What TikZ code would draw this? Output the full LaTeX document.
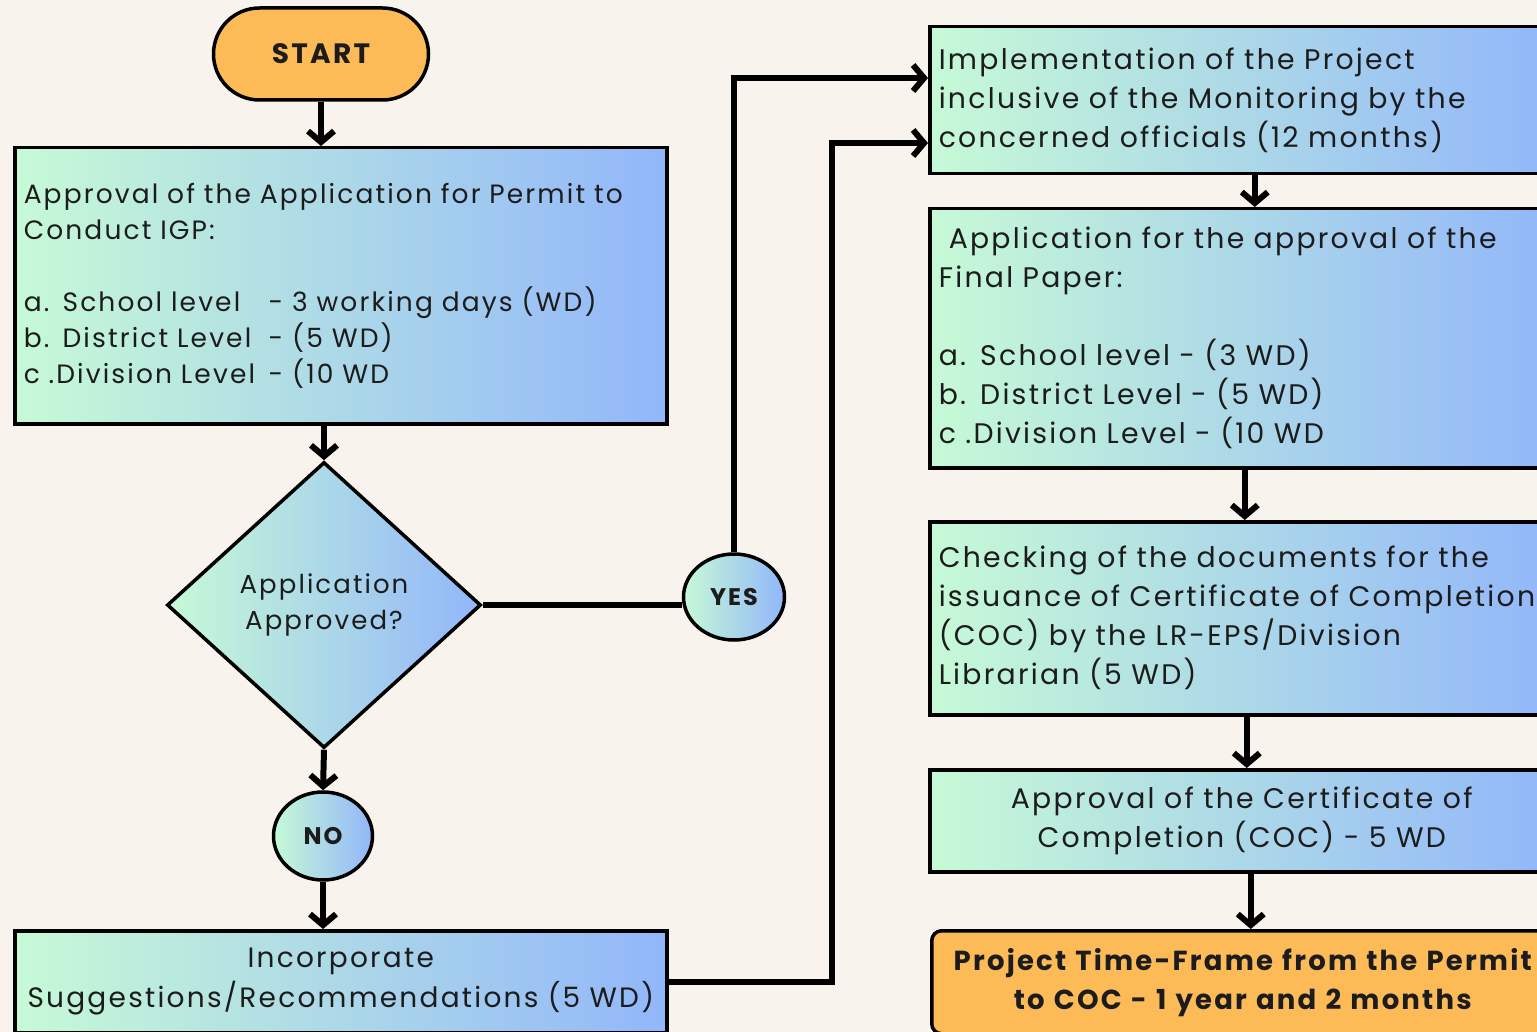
\documentclass[tikz,border=0pt]{standalone}
\usepackage{fontspec}
\setmainfont{Poppins}[LetterSpace=8]
\usetikzlibrary{arrows.meta,shapes.geometric}
\definecolor{bg}{RGB}{248,244,237}
\definecolor{orng}{RGB}{253,187,88}
\definecolor{gA}{RGB}{198,250,214}
\definecolor{gB}{RGB}{146,182,250}
\definecolor{ink}{RGB}{28,28,28}
\begin{document}
\begin{tikzpicture}[x=1pt,y=-1pt,
  every node/.style={text=ink, font=\fontsize{28.3}{39}\selectfont},
  grad/.style={draw=black, line width=3.5pt, left color=gA, right color=gB},
  box/.style={grad, rectangle, inner xsep=9pt, inner ysep=0pt, align=left},
  rbox/.style={box, anchor=north west, minimum width=624, text width=606},
  term/.style={draw=black, line width=3.5pt, fill=orng},
  bubble/.style={ellipse, grad, inner sep=0pt, font=\bfseries\fontsize{24}{26}\selectfont},
  arr/.style={line width=6pt, -{Straight Barb[length=11pt,width=26pt]}},
  ln/.style={line width=6pt},
]
% page
\fill[bg] (0,0) rectangle (1537,1032);
\useasboundingbox (0,0) rectangle (1537,1032);

% left column
\node[term, rounded corners=46pt, minimum width=215, minimum height=92,
  font=\bfseries\fontsize{28}{30}\selectfont] (start) at (321,54) {START};

\node[box, anchor=north west, minimum width=652, minimum height=276, text width=634,
  font=\fontsize{26.5}{36}\selectfont] (perm) at (13,146)
  {Approval of the Application for Permit to\\
   Conduct IGP:\\[36pt]
   \makebox[245pt][l]{a. School level}- 3 working days (WD)\\
   \makebox[245pt][l]{b. District Level}- (5 WD)\\
   \makebox[245pt][l]{c .Division Level}- (10 WD};

\node[diamond, grad, minimum width=314, minimum height=286, inner sep=0pt, align=center,
  font=\fontsize{26}{36}\selectfont] (dec) at (324,605) {Application\\Approved?};

\node[bubble, minimum width=101, minimum height=86] (yes) at (734,597) {YES};
\node[bubble, minimum width=99, minimum height=88] (no) at (323,836) {NO};

\node[box, anchor=north west, minimum width=652, minimum height=102, text width=634,
  align=center, font=\fontsize{28}{40}\selectfont] (inc) at (13,929)
  {Incorporate\\Suggestions/Recommendations (5 WD)};

% right column
\node[rbox, minimum height=147] (imp) at (928,25)
  {Implementation of the Project\\
   inclusive of the Monitoring by the\\
   concerned officials (12 months)};

\node[rbox, minimum height=259] (app) at (928,207)
  {\hspace*{10pt}Application for the approval of the\\
   Final Paper:\\[39pt]
   a. School level - (3 WD)\\
   b. District Level - (5 WD)\\
   c .Division Level - (10 WD};

\node[rbox, minimum height=193] (chk) at (928,520)
  {Checking of the documents for the\\
   \mbox{issuance of Certificate of Completion}\\
   (COC) by the LR-EPS/Division\\
   Librarian (5 WD)};

\node[rbox, minimum height=102, align=center] (coc) at (928,768)
  {Approval of the Certificate of\\
   Completion (COC) - 5 WD};

\node[term, rounded corners=10pt, anchor=north west, minimum width=622, minimum height=103,
  text width=604, inner xsep=9pt, inner ysep=0pt, align=center,
  font=\bfseries\fontsize{27.5}{39}\selectfont] (pt) at (930,929)
  {Project Time-Frame from the Permit\\
   to COC - 1 year and 2 months};

% connectors
\coordinate (yesTurn) at (734,78);
\coordinate (incTurn) at (832,143);

\draw[arr] (start.south) -- (start.south |- perm.north);
\draw[arr] (perm.south -| dec.north) -- (dec.north);
\draw[ln] (dec.east) -- (dec.east -| yes.west);
\draw[arr] (yes.north) -- (yesTurn) -- (yesTurn -| imp.west);
\draw[arr] (dec.south) -- (no.north);
\draw[arr] (no.south) -- (no.south |- inc.north);
\draw[arr] (inc.east) -- (inc.east -| incTurn) -- (incTurn) -- (incTurn -| imp.west);

\draw[arr] ([xshift=13pt]imp.south) -- ([xshift=13pt]imp.south |- app.north);
\draw[arr] ([xshift=3pt]app.south) -- ([xshift=3pt]app.south |- chk.north);
\draw[arr] ([xshift=5pt]chk.south) -- ([xshift=5pt]chk.south |- coc.north);
\draw[arr] ([xshift=9pt]coc.south) -- ([xshift=9pt]coc.south |- pt.north);
\end{tikzpicture}
\end{document}
